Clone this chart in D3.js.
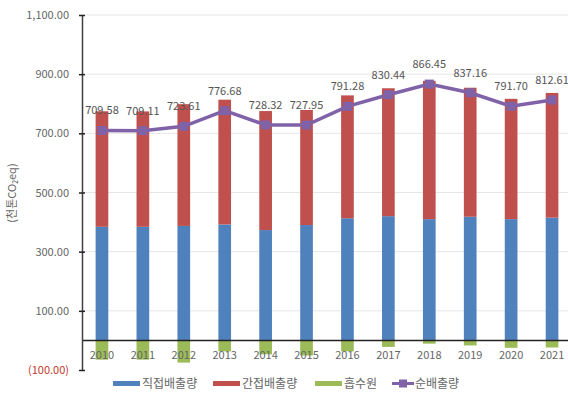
<!DOCTYPE html>
<html><head><meta charset="utf-8">
<script src="https://cdn.jsdelivr.net/npm/d3@7"></script>
<style>body{margin:0;background:#fff}svg{display:block}text{font-family:"Noto Sans CJK KR","Noto Sans",sans-serif}</style>
</head><body><svg id="c" width="568" height="406"></svg>
<script>
const years = ["2010","2011","2012","2013","2014","2015","2016","2017","2018","2019","2020","2021"];
const direct = [384, 384, 387, 392, 373, 390, 413, 420, 410, 418, 410, 415];
const indirect = [390.6, 390.1, 411.6, 421.7, 402.3, 389.0, 415.3, 432.4, 467.5, 436.2, 406.7, 421.6];
const sink = [-65, -65, -75, -37, -47, -51, -37, -22, -11, -17, -25, -24];
const net = [709.58, 709.11, 723.61, 776.68, 728.32, 727.95, 791.28, 830.44, 866.45, 837.16, 791.70, 812.61];
const yTicks = [-100, 100, 300, 500, 700, 900, 1100];
const seriesNames = ["직접배출량", "간접배출량", "흡수원", "순배출량"];
const colors = ["#4f81bd", "#c0504d", "#9bbb59", "#7f62a8"];

const svg = d3.select("#c");
const y = d3.scaleLinear().domain([-100, 1100]).range([370, 15]);
const x = d3.scaleBand().domain(years).range([81.5, 572.5]).paddingInner(0.69).paddingOuter(0.345);
const fmt = d3.format(",.2f");
const tfmt = v => v < 0 ? "(" + fmt(-v) + ")" : fmt(v);

// gridlines
svg.append("g").selectAll("line").data(yTicks.filter(t => t > 0)).join("line")
  .attr("x1", 82).attr("x2", 568).attr("y1", d => y(d)).attr("y2", d => y(d))
  .attr("stroke", "#e6e6e6").attr("stroke-width", 1);

// bars
const g = svg.append("g");
years.forEach((yr, i) => {
  g.append("rect").attr("x", x(yr)).attr("width", x.bandwidth())
    .attr("y", y(direct[i])).attr("height", y(0) - y(direct[i])).attr("fill", colors[0]);
  g.append("rect").attr("x", x(yr)).attr("width", x.bandwidth())
    .attr("y", y(direct[i] + indirect[i])).attr("height", y(direct[i]) - y(direct[i] + indirect[i])).attr("fill", colors[1]);
  g.append("rect").attr("x", x(yr)).attr("width", x.bandwidth())
    .attr("y", y(0)).attr("height", y(sink[i]) - y(0)).attr("fill", colors[2]);
});

// zero line
svg.append("line").attr("x1", 82).attr("x2", 568).attr("y1", y(0)).attr("y2", y(0))
  .attr("stroke", "#222").attr("stroke-width", 1.5);

// y axis
const yAxis = d3.axisLeft(y).tickValues(yTicks).tickFormat(tfmt).tickSizeInner(3).tickSizeOuter(0).tickPadding(10);
const ya = svg.append("g").attr("transform", "translate(82,0)").call(yAxis);
ya.select(".domain").attr("stroke", "#404040").attr("stroke-width", 1.5);
ya.selectAll(".tick line").attr("x1", -3).attr("x2", 3).attr("stroke", "#222").attr("stroke-width", 1.5);
ya.selectAll(".tick text").attr("font-size", 11)
  .attr("font-family", '"Noto Sans CJK KR","Noto Sans",sans-serif')
  .attr("fill", d => d < 0 ? "#c0392b" : "#666");

// x labels
svg.append("g").selectAll("text").data(years).join("text")
  .attr("x", d => x(d) + x.bandwidth() / 2).attr("y", 359)
  .attr("text-anchor", "middle").attr("font-size", 11).attr("fill", "#666").text(d => d);

// net line
const pts = years.map((yr, i) => [x(yr) + x.bandwidth() / 2, y(net[i])]);
svg.append("path").attr("d", d3.line()(pts)).attr("fill", "none")
  .attr("stroke", colors[3]).attr("stroke-width", 3.5);
svg.append("g").selectAll("rect").data(pts).join("rect")
  .attr("x", d => d[0] - 4.5).attr("y", d => d[1] - 4.5).attr("width", 9).attr("height", 9)
  .attr("fill", colors[3]);

// data labels
svg.append("g").selectAll("text").data(years).join("text")
  .attr("x", (d, i) => pts[i][0]).attr("y", (d, i) => pts[i][1] - 16)
  .attr("text-anchor", "middle").attr("font-size", 11).attr("fill", "#555")
  .text((d, i) => fmt(net[i]));

// y title
svg.append("text").attr("transform", "translate(16,193) rotate(-90)")
  .attr("text-anchor", "middle").attr("font-size", 11).attr("fill", "#666")
  .text("(천톤CO₂eq)");

// legend
const lg = svg.append("g");
const lx = [113, 213, 315, 392];
seriesNames.forEach((n, i) => {
  if (i < 3) {
    lg.append("rect").attr("x", lx[i]).attr("y", 381).attr("width", 27).attr("height", 5).attr("fill", colors[i]);
  } else {
    lg.append("line").attr("x1", lx[i]).attr("x2", lx[i] + 22).attr("y1", 383.5).attr("y2", 383.5)
      .attr("stroke", colors[3]).attr("stroke-width", 3);
    lg.append("rect").attr("x", lx[i] + 7).attr("y", 379.5).attr("width", 8).attr("height", 8).attr("fill", colors[3]);
  }
  lg.append("text").attr("x", lx[i] + (i < 3 ? 29 : 23)).attr("y", 388)
    .attr("font-size", 12).attr("fill", "#666").text(n);
});
</script></body></html>
